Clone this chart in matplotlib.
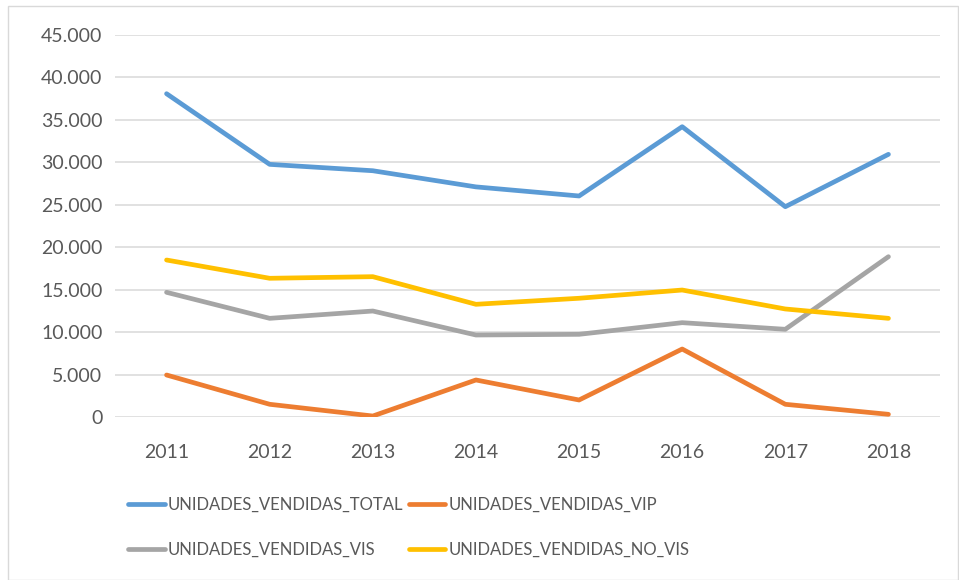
import matplotlib.pyplot as plt
from matplotlib.patches import Rectangle
from matplotlib.ticker import FuncFormatter

# datos
anios = ["2011", "2012", "2013", "2014", "2015", "2016", "2017", "2018"]
total = [38060, 29750, 29000, 27100, 26030, 34180, 24770, 30930]
vip = [4975, 1530, 150, 4390, 2035, 8030, 1530, 350]
vis = [14700, 11640, 12500, 9680, 9760, 11130, 10350, 18890]
no_vis = [18500, 16350, 16540, 13290, 14000, 14970, 12740, 11640]

series = [
    ("UNIDADES_VENDIDAS_TOTAL", total, "#5B9BD5"),
    ("UNIDADES_VENDIDAS_VIP", vip, "#ED7D31"),
    ("UNIDADES_VENDIDAS_VIS", vis, "#A5A5A5"),
    ("UNIDADES_VENDIDAS_NO_VIS", no_vis, "#FFC000"),
]

plt.rcParams['font.family'] = ['Lato', 'DejaVu Sans']
W, H = 959, 580
fig = plt.figure(figsize=(W / 100, H / 100), dpi=100)
ax = fig.add_axes([115 / W, 1 - 417.3 / H, (940 - 115) / W, (417.3 - 34.7) / H])

x = range(len(anios))
lineas = []
for nombre, valores, color in series:
    l, = ax.plot(x, valores, color=color, lw=3.4, solid_capstyle='round',
                 solid_joinstyle='round', label=nombre, zorder=3)
    lineas.append(l)

ax.set_xlim(-0.5, len(anios) - 0.5)
ax.set_ylim(0, 45000)
ax.set_yticks(range(0, 45001, 5000))
ax.yaxis.set_major_formatter(FuncFormatter(lambda v, p: f"{int(v):,}".replace(",", ".")))
ax.set_xticks(list(x))
ax.set_xticklabels(anios)
ax.grid(axis='y', color='#D9D9D9', lw=1.1)
ax.set_axisbelow(True)
for s in ax.spines.values():
    s.set_visible(False)
ax.tick_params(length=0, labelsize=14, colors='#595959', pad=9)
ax.tick_params(axis='x', pad=19)

# orden por columnas para que salga por filas
orden = [lineas[0], lineas[2], lineas[1], lineas[3]]
leg = fig.legend(handles=orden, loc='upper left', bbox_to_anchor=(113 / W, 1 - 482 / H),
                 ncol=2, frameon=False, fontsize=12,
                 handlelength=2.2, columnspacing=0.3, handletextpad=0.2, labelspacing=1.75)
for t in leg.get_texts():
    t.set_color('#595959')

fig.patches.append(Rectangle((8 / W, 0), (W - 9) / W, 1 - 6 / H, transform=fig.transFigure,
                             fill=False, edgecolor='#D9D9D9', lw=1))

fig.savefig("out.png", dpi=100)
